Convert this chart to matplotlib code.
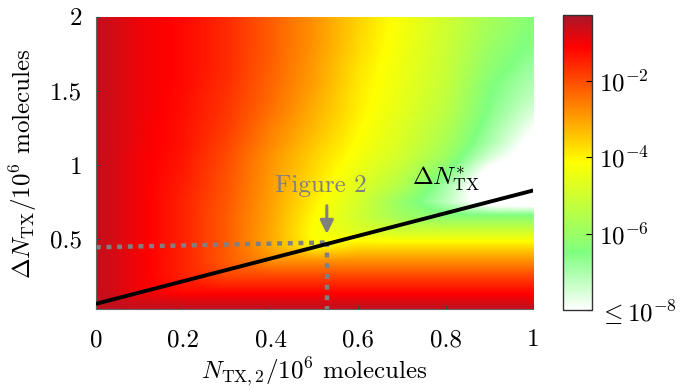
import numpy as np
import matplotlib
matplotlib.use("Agg")
import matplotlib.pyplot as plt
from matplotlib.colors import LinearSegmentedColormap, Normalize, LogNorm
from matplotlib.cm import ScalarMappable

plt.rcParams['font.family'] = ['cmr10', 'DejaVu Serif']
plt.rcParams['mathtext.fontset'] = 'cm'
plt.rcParams['axes.unicode_minus'] = False
plt.rcParams['axes.formatter.use_mathtext'] = True

# ---- data (log10 of the plotted quantity) ----
x_centers = [0.0, 0.1, 0.2, 0.3, 0.4, 0.5, 0.6, 0.7, 0.8, 0.9, 1.0]
y_centers = [0.05, 0.15, 0.25, 0.35, 0.45, 0.55, 0.65, 0.75, 0.85, 0.95,
             1.05, 1.15, 1.25, 1.35, 1.45, 1.55, 1.65, 1.75, 1.85, 1.95]
log_p = [
    [-0.45, -0.6, -0.6, -0.6, -0.6, -0.6, -0.6, -0.6, -0.6, -0.6, -0.6],
    [-0.5, -1.0, -1.25, -1.25, -1.25, -1.25, -1.25, -1.25, -1.25, -1.25, -1.25],
    [-0.5, -1.0, -1.5, -1.95, -1.95, -1.95, -1.95, -1.95, -1.95, -1.95, -1.95],
    [-0.5, -1.0, -1.5, -2.2, -2.8, -2.8, -2.8, -2.8, -2.8, -2.8, -2.8],
    [-0.5, -1.0, -1.5, -2.2, -3.1, -4.1, -3.75, -3.75, -3.75, -3.75, -3.75],
    [-0.5, -1.0, -1.5, -2.2, -3.1, -4.2, -4.75, -5.0, -5.0, -5.0, -5.0],
    [-0.5, -1.0, -1.5, -2.2, -3.05, -4.1, -5.0, -5.9, -6.3, -6.3, -6.3],
    [-0.5, -1.0, -1.5, -2.15, -3.0, -3.95, -4.9, -6.1, -7.2, -8.6, -8.8],
    [-0.5, -1.0, -1.45, -2.1, -2.95, -3.8, -4.7, -5.6, -7.0, -8.8, -9.0],
    [-0.5, -1.0, -1.4, -2.05, -2.9, -3.7, -4.5, -5.3, -6.4, -8.3, -8.9],
    [-0.5, -1.0, -1.35, -2.0, -2.85, -3.6, -4.3, -5.0, -5.95, -7.5, -8.6],
    [-0.5, -0.97, -1.3, -1.9, -2.7, -3.45, -4.15, -4.85, -5.7, -7.0, -8.3],
    [-0.5, -0.97, -1.3, -1.8, -2.6, -3.3, -4.05, -4.75, -5.55, -6.8, -7.95],
    [-0.5, -0.95, -1.25, -1.75, -2.45, -3.2, -3.95, -4.65, -5.4, -6.6, -7.6],
    [-0.5, -0.95, -1.25, -1.7, -2.35, -3.1, -3.9, -4.55, -5.3, -6.5, -7.3],
    [-0.5, -0.95, -1.2, -1.65, -2.3, -3.0, -3.85, -4.5, -5.2, -6.4, -7.1],
    [-0.5, -0.95, -1.2, -1.6, -2.25, -2.95, -3.8, -4.45, -5.15, -6.2, -6.9],
    [-0.5, -0.95, -1.2, -1.6, -2.2, -2.9, -3.7, -4.4, -5.1, -6.05, -6.7],
    [-0.5, -0.95, -1.2, -1.6, -2.2, -2.85, -3.65, -4.35, -5.05, -5.9, -6.55],
    [-0.5, -0.95, -1.2, -1.6, -2.2, -2.85, -3.6, -4.3, -5.0, -5.8, -6.4],
]

# optimal threshold line  dN*_TX
line_x = [0.0, 1.0]
line_y = [0.063, 0.828]

# "Figure 2" operating point guides
guide_h_x = [0.0, 0.528]
guide_h_y = [0.445, 0.477]
guide_v_x = [0.528, 0.528]
guide_v_y = [0.477, 0.0]
arrow_from = (0.528, 0.725)
arrow_to = (0.528, 0.535)

xticks = [0, 0.2, 0.4, 0.6, 0.8, 1]
xticklabels = ['0', '0.2', '0.4', '0.6', '0.8', '1']
yticks = [0.5, 1, 1.5, 2]
yticklabels = ['0.5', '1', '1.5', '2']
cbar_ticks = [1e-8, 1e-6, 1e-4, 1e-2]
cbar_ticklabels = [r'$\leq 10^{-8}$', r'$10^{-6}$', r'$10^{-4}$', r'$10^{-2}$']

log_min, log_max = -8.0, -0.27
FS = 18

# ---- colormap ----
def pos(l):
    return (l - log_min) / (log_max - log_min)

cmap = LinearSegmentedColormap.from_list('wgyr', [
    (0.0, (1.0, 1.0, 1.0)),
    (pos(-6.5), (0.5, 1.0, 0.5)),
    (pos(-4.12), (1.0, 1.0, 0.0)),
    (pos(-1.1), (1.0, 0.0, 0.0)),
    (1.0, (0.66, 0.09, 0.16)),
], N=512)
cmap.set_under('white')
cmap.set_over((0.66, 0.09, 0.16))

# ---- figure ----
fig = plt.figure(figsize=(6.86, 3.92), dpi=100)
ax = fig.add_axes([0.1397, 0.2105, 0.6377, 0.7469])

Z = np.array(log_p)
dx = x_centers[1] - x_centers[0]
dy = y_centers[1] - y_centers[0]
ax.imshow(Z, origin='lower', aspect='auto', cmap=cmap,
          norm=Normalize(vmin=log_min, vmax=log_max),
          extent=[x_centers[0] - dx / 2, x_centers[-1] + dx / 2,
                  y_centers[0] - dy / 2, y_centers[-1] + dy / 2],
          interpolation='bilinear', interpolation_stage='data', zorder=0)

ax.plot(guide_h_x, guide_h_y, color='#808080', lw=3.2,
        linestyle=(0, (1.1, 1.3)), zorder=2)
ax.plot(guide_v_x, guide_v_y, color='#808080', lw=3.2,
        linestyle=(0, (1.1, 1.3)), zorder=2)
ax.plot(line_x, line_y, color='black', lw=2.8, zorder=3,
        solid_capstyle='butt')
ax.annotate('', xy=arrow_to, xytext=arrow_from,
            arrowprops=dict(arrowstyle='-|>', color='#808080', lw=2.2,
                            mutation_scale=20, shrinkA=0, shrinkB=0))
ax.text(0.515, 0.86, 'Figure 2', color='#808080', fontsize=FS,
        ha='center', va='center')
ax.text(0.80, 0.905, r'$\Delta N^{*}_{\mathrm{TX}}$', color='black',
        fontsize=FS, ha='center', va='center')

ax.set_xlim(0, 1)
ax.set_ylim(0.025, 2)
ax.set_xticks(xticks)
ax.set_xticklabels(xticklabels)
ax.set_yticks(yticks)
ax.set_yticklabels(yticklabels)
ax.tick_params(direction='in', length=3, width=0.8, color='#444444',
               labelsize=FS)
ax.tick_params(axis='x', pad=14)
ax.tick_params(axis='y', pad=10)
for s in ['top', 'right']:
    ax.spines[s].set_visible(False)
for s in ['left', 'bottom']:
    ax.spines[s].set_color('#666666')
    ax.spines[s].set_linewidth(0.8)
ax.set_xlabel(r'$N_{\mathrm{TX},2}/10^6$ molecules', fontsize=FS, labelpad=3)
ax.set_ylabel(r'$\Delta N_{\mathrm{TX}}/10^6$ molecules', fontsize=FS, labelpad=8)

cax = fig.add_axes([0.8203, 0.2092, 0.0423, 0.7525])
sm = ScalarMappable(norm=LogNorm(vmin=10 ** log_min, vmax=10 ** log_max), cmap=cmap)
cb = fig.colorbar(sm, cax=cax)
cb.set_ticks(cbar_ticks)
cb.set_ticklabels(cbar_ticklabels)
cb.ax.tick_params(which='major', direction='in', length=4, width=0.8,
                  labelsize=FS, pad=5)
cb.ax.tick_params(which='minor', direction='in', length=2, width=0.6)
cb.outline.set_edgecolor('#333333')
cb.outline.set_linewidth(1.0)

fig.savefig('out.png', dpi=100)
